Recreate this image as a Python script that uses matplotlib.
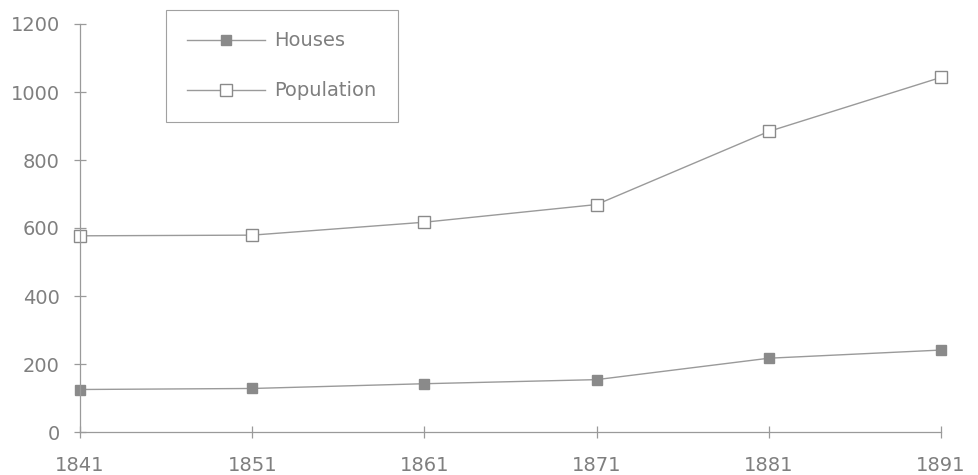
import matplotlib.pyplot as plt
import matplotlib.ticker as mticker

years = [1841, 1851, 1861, 1871, 1881, 1891]
houses = [125, 128, 142, 154, 217, 241]
population = [577, 579, 617, 669, 884, 1043]

txt = '#7f7f7f'
ln = '#9a9a9a'
plt.rcParams.update({'font.family': 'DejaVu Sans', 'font.size': 14})

fig = plt.figure(figsize=(9.79, 4.75), dpi=100)
ax = fig.add_axes([80/979, 1 - 432/475, (941 - 80)/979, (432 - 24)/475])

ax.plot(years, houses, color=ln, lw=1, marker='s', ms=7,
        mfc='#8a8a8a', mec='#8a8a8a', label='Houses')
ax.plot(years, population, color=ln, lw=1, marker='s', ms=8,
        mfc='white', mec='#8a8a8a', mew=1, label='Population')

ax.set_xlim(1841, 1891)
ax.set_ylim(0, 1200)
ax.set_xticks(years)
ax.yaxis.set_major_locator(mticker.MultipleLocator(200))
for s in ['top', 'right']:
    ax.spines[s].set_visible(False)
for s in ['left', 'bottom']:
    ax.spines[s].set_color(ln)
    ax.spines[s].set_linewidth(0.9)
    ax.spines[s].set_clip_on(False)
ax.tick_params(colors=ln, labelcolor=txt, direction='inout', length=9, width=0.9)
ax.tick_params(axis='y', pad=10)
ax.tick_params(axis='x', pad=13)
for m in ax.lines:
    m.set_clip_on(False)

leg = ax.legend(loc='upper left', bbox_to_anchor=(166/979, 1 - 10/475),
                bbox_transform=fig.transFigure, frameon=True, fancybox=False,
                handlelength=4.0, handletextpad=0.45, labelspacing=1.6,
                borderpad=1.1, borderaxespad=0, labelcolor=txt)
leg.get_frame().set_edgecolor('#8a8a8a')
leg.get_frame().set_linewidth(0.8)

fig.savefig('out.png', dpi=100)
